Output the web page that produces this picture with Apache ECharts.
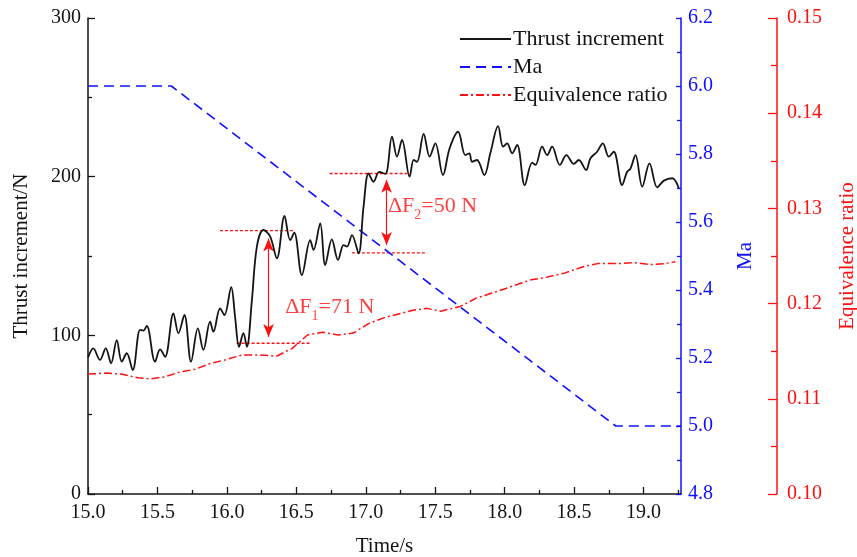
<!DOCTYPE html>
<html>
<head>
<meta charset="utf-8">
<script src="https://cdn.jsdelivr.net/npm/echarts@6/dist/echarts.min.js"></script>
<style>
  html, body { margin: 0; padding: 0; background: #fff; overflow: hidden; }
  #chart { width: 857px; height: 557px; }
</style>
</head>
<body>
<div id="chart"></div>
<script>
// Thrust increment (N) versus time (s)
const thrustTime = [
  15.000, 15.038, 15.086, 15.128, 15.166, 15.207, 15.243, 15.279, 15.322, 15.375,
  15.399, 15.423, 15.483, 15.519, 15.555, 15.615, 15.651, 15.694, 15.742, 15.791,
  15.831, 15.879, 15.903, 15.951, 15.982, 16.031, 16.059, 16.088, 16.119, 16.144,
  16.180, 16.216, 16.263, 16.312, 16.360, 16.415, 16.456, 16.485, 16.540, 16.600,
  16.624, 16.672, 16.708, 16.756, 16.800, 16.840, 16.865, 16.901, 16.948, 16.984,
  17.020, 17.056, 17.097, 17.141, 17.189, 17.225, 17.261, 17.316, 17.345, 17.369,
  17.417, 17.460, 17.501, 17.556, 17.604, 17.665, 17.717, 17.746, 17.765, 17.801,
  17.854, 17.897, 17.953, 17.989, 18.018, 18.054, 18.090, 18.145, 18.198, 18.222,
  18.270, 18.306, 18.342, 18.397, 18.445, 18.498, 18.534, 18.587, 18.618, 18.666,
  18.707, 18.750, 18.786, 18.846, 18.882, 18.906, 18.942, 18.991, 19.043, 19.099,
  19.147, 19.207, 19.254
];
const thrustValues = [
  86, 91.8, 84.5, 91.8, 82.4, 97, 83.4, 88.7, 78.1, 103.4,
  103, 105.9, 83.4, 91.2, 86.5, 113.9, 101.3, 112.8, 83.4, 104.4,
  90.8, 108.6, 102.3, 117, 112.8, 130.3, 111.7, 92.8, 101.3, 92.8,
  122, 155.9, 166.4, 162.2, 148.5, 175.2, 160, 164.7, 138, 160,
  153.8, 170.6, 144.3, 160.5, 147.5, 156.9, 155.9, 163.2, 151.7, 181,
  202, 196.8, 203, 201.7, 225.2, 212.6, 223.1, 200, 210.5, 209.4,
  226.9, 212.6, 221, 201, 217.9, 228.3, 213.6, 214.7, 209.4, 210.5,
  201, 214.7, 231.9, 218.9, 221, 214.7, 220, 194.7, 208.8, 207.4,
  218.9, 213.6, 218.9, 207.4, 213.6, 208, 210.5, 204.2, 211.6, 215.7,
  221, 212.6, 215.7, 194.7, 203.1, 205, 213.6, 193.7, 208.4, 193.3,
  197.5, 199, 192.7
];

// Flight Mach number schedule
const machTime = [15.0, 15.6, 18.8, 19.27];
const machValues = [6.0, 6.0, 5.0, 5.0];

// Equivalence ratio
const eqTime = [
  15.00, 15.13, 15.24, 15.36, 15.45, 15.55, 15.66, 15.77, 15.88, 15.99,
  16.11, 16.24, 16.36, 16.47, 16.58, 16.69, 16.80, 16.91, 17.02, 17.13,
  17.34, 17.44, 17.54, 17.68, 17.80, 17.95, 18.09, 18.19, 18.28, 18.43,
  18.57, 18.67, 18.81, 18.93, 19.05, 19.15, 19.23
];
const eqValues = [
  0.1126, 0.1127, 0.1126, 0.1122, 0.1121, 0.1123, 0.1128, 0.1131, 0.1137, 0.1141,
  0.1146, 0.1146, 0.1145, 0.1153, 0.1167, 0.1170, 0.1167, 0.1169, 0.1179, 0.1185,
  0.1193, 0.1195, 0.1192, 0.1197, 0.1206, 0.1213, 0.1220, 0.1225, 0.1227, 0.1232,
  0.1239, 0.1242, 0.1242, 0.1243, 0.1241, 0.1242, 0.1244
];

// Axis ticks
const timeMajorTicks = [15.0, 15.5, 16.0, 16.5, 17.0, 17.5, 18.0, 18.5, 19.0];
const timeMinorTicks = [15.25, 15.75, 16.25, 16.75, 17.25, 17.75, 18.25, 18.75, 19.25];

// Thrust jumps: level before/after each step, in N
const jump1 = { upper: 166, lower: 95 };   // ΔF1 = 71 N
const jump2 = { upper: 202, lower: 152 };  // ΔF2 = 50 N
const jump1Span = { upperFrom: 15.95, upperTo: 16.49, lowerFrom: 16.07, lowerTo: 16.60, arrowAt: 16.30 };
const jump2Span = { upperFrom: 16.74, upperTo: 17.30, lowerFrom: 16.90, lowerTo: 17.44, arrowAt: 17.15 };

const FONT = 'Liberation Serif';
const BLUE = '#1010ff';
const RED = '#ff1010';
const INK = '#141414';

const zip = (xs, ys) => xs.map((x, i) => [x, ys[i]]);

const segment = (from, to, v) => [[from, v], [to, v]];
const levelLine = (name, pts) => ({
  name, type: 'line', xAxisIndex: 0, yAxisIndex: 0, data: pts,
  symbol: 'none', silent: true, z: 3,
  lineStyle: { color: RED, width: 1.4, type: [3, 2] }
});

const chart = echarts.init(document.getElementById('chart'), null, { renderer: 'canvas' });

const axisNameStyle = (color) => ({ fontFamily: FONT, fontSize: 21, color });

chart.setOption({
  animation: false,
  backgroundColor: '#fff',
  textStyle: { fontFamily: FONT },
  grid: { left: 88, right: 176, top: 18, bottom: 63, containLabel: false, outerBoundsMode: 'none' },
  legend: {
    orient: 'vertical',
    left: 454, top: 23,
    itemWidth: 51, itemHeight: 14, itemGap: 6,
    itemStyle: { opacity: 0 },
    data: ['Thrust increment', 'Ma', 'Equivalence ratio'],
    textStyle: { fontFamily: FONT, fontSize: 22, color: INK, padding: [0, 0, 0, -3] }
  },
  xAxis: [
    {
      type: 'value', min: 15, max: 19.27,
      name: 'Time/s', nameLocation: 'middle', nameGap: 42,
      nameTextStyle: axisNameStyle(INK),
      axisLine: { show: true, lineStyle: { color: INK, width: 1.5 } },
      axisTick: { show: true, inside: true, length: 7, customValues: timeMajorTicks, lineStyle: { color: INK, width: 1.3 } },
      axisLabel: { customValues: timeMajorTicks, formatter: v => v.toFixed(1), fontFamily: FONT, fontSize: 20, color: INK, margin: 9 },
      splitLine: { show: false }
    },
    {
      type: 'value', min: 15, max: 19.27, position: 'bottom',
      axisLine: { show: false },
      axisTick: { show: true, inside: true, length: 4, customValues: timeMinorTicks, lineStyle: { color: INK, width: 1.3 } },
      axisLabel: { show: false },
      splitLine: { show: false }
    }
  ],
  yAxis: [
    {
      type: 'value', min: 0, max: 300, interval: 100, position: 'left',
      name: 'Thrust increment/N', nameLocation: 'middle', nameGap: 56, nameRotate: 90,
      nameTextStyle: axisNameStyle(INK),
      axisLine: { show: true, lineStyle: { color: INK, width: 1.5 } },
      axisTick: { show: true, inside: true, length: 7, lineStyle: { color: INK, width: 1.3 } },
      minorTick: { show: true, splitNumber: 2, length: 4, lineStyle: { color: INK, width: 1.3 } },
      axisLabel: { fontFamily: FONT, fontSize: 20, color: INK, margin: 7 },
      splitLine: { show: false }, minorSplitLine: { show: false }
    },
    {
      type: 'value', min: 4.8, max: 6.2, interval: 0.2, position: 'right', offset: 0,
      name: 'Ma', nameLocation: 'middle', nameGap: 54, nameRotate: 90,
      nameTextStyle: axisNameStyle(BLUE),
      axisLine: { show: true, lineStyle: { color: BLUE, width: 1.5 } },
      axisTick: { show: true, inside: true, length: 5, lineStyle: { color: BLUE, width: 1.3 } },
      minorTick: { show: true, splitNumber: 2, length: 4, lineStyle: { color: BLUE, width: 1.3 } },
      axisLabel: { formatter: v => v.toFixed(1), fontFamily: FONT, fontSize: 20, color: BLUE, margin: 7 },
      splitLine: { show: false }, minorSplitLine: { show: false }
    },
    {
      type: 'value', min: 0.10, max: 0.15, interval: 0.01, position: 'right', offset: 96,
      name: 'Equivalence ratio', nameLocation: 'middle', nameGap: 60, nameRotate: 90,
      nameTextStyle: axisNameStyle(RED),
      axisLine: { show: true, lineStyle: { color: RED, width: 1.5 } },
      axisTick: { show: true, inside: true, length: 9, lineStyle: { color: RED, width: 1.3 } },
      minorTick: { show: true, splitNumber: 2, length: 6, lineStyle: { color: RED, width: 1.3 } },
      axisLabel: { formatter: v => v.toFixed(2), fontFamily: FONT, fontSize: 20, color: RED, margin: 10 },
      splitLine: { show: false }, minorSplitLine: { show: false }
    }
  ],
  series: [
    {
      name: 'Thrust increment', type: 'line', xAxisIndex: 0, yAxisIndex: 0,
      data: zip(thrustTime, thrustValues),
      symbol: 'none', smooth: 0.35, z: 5,
      itemStyle: { color: INK },
      lineStyle: { color: INK, width: 1.8 }
    },
    {
      name: 'Ma', type: 'line', xAxisIndex: 0, yAxisIndex: 1,
      data: zip(machTime, machValues),
      symbol: 'none', z: 4,
      itemStyle: { color: BLUE },
      lineStyle: { color: BLUE, width: 1.6, type: [10, 6] }
    },
    {
      name: 'Equivalence ratio', type: 'line', xAxisIndex: 0, yAxisIndex: 2,
      data: zip(eqTime, eqValues),
      symbol: 'none', z: 4,
      itemStyle: { color: RED },
      lineStyle: { color: RED, width: 1.5, type: [8, 3, 2, 3] }
    },
    levelLine('j1u', segment(jump1Span.upperFrom, jump1Span.upperTo, jump1.upper)),
    levelLine('j1l', segment(jump1Span.lowerFrom, jump1Span.lowerTo, jump1.lower)),
    levelLine('j2u', segment(jump2Span.upperFrom, jump2Span.upperTo, jump2.upper)),
    levelLine('j2l', segment(jump2Span.lowerFrom, jump2Span.lowerTo, jump2.lower)),
    {
      name: 'arrows', type: 'line', xAxisIndex: 0, yAxisIndex: 0, data: [],
      silent: true, z: 6,
      markLine: {
        silent: true, animation: false,
        symbol: ['arrow', 'arrow'], symbolSize: [8, 13],
        label: { show: false },
        lineStyle: { color: RED, width: 1.2, type: 'solid' },
        emphasis: { disabled: true },
        data: [
          [{ coord: [jump1Span.arrowAt, jump1.lower + 4] }, { coord: [jump1Span.arrowAt, jump1.upper - 5] }],
          [{ coord: [jump2Span.arrowAt, jump2.lower + 5] }, { coord: [jump2Span.arrowAt, jump2.upper - 4] }]
        ]
      }
    },
    {
      name: 'labels', type: 'scatter', xAxisIndex: 0, yAxisIndex: 0,
      symbolSize: 0, silent: true, z: 7,
      data: [
        { value: [16.42, 118.5], jump: 1, diff: jump1.upper - jump1.lower },
        { value: [17.16, 182], jump: 2, diff: jump2.upper - jump2.lower }
      ],
      label: {
        show: true, position: 'right', distance: 0,
        formatter: p => '{m|ΔF}{s|' + p.data.jump + '}{m|=' + p.data.diff + ' N}',
        rich: {
          m: { fontFamily: FONT, fontSize: 22, color: RED, verticalAlign: 'bottom', lineHeight: 24 },
          s: { fontFamily: FONT, fontSize: 14, color: RED, verticalAlign: 'bottom', lineHeight: 24, padding: [0, 0, -5, 0] }
        }
      }
    }
  ]
});
</script>
</body>
</html>
